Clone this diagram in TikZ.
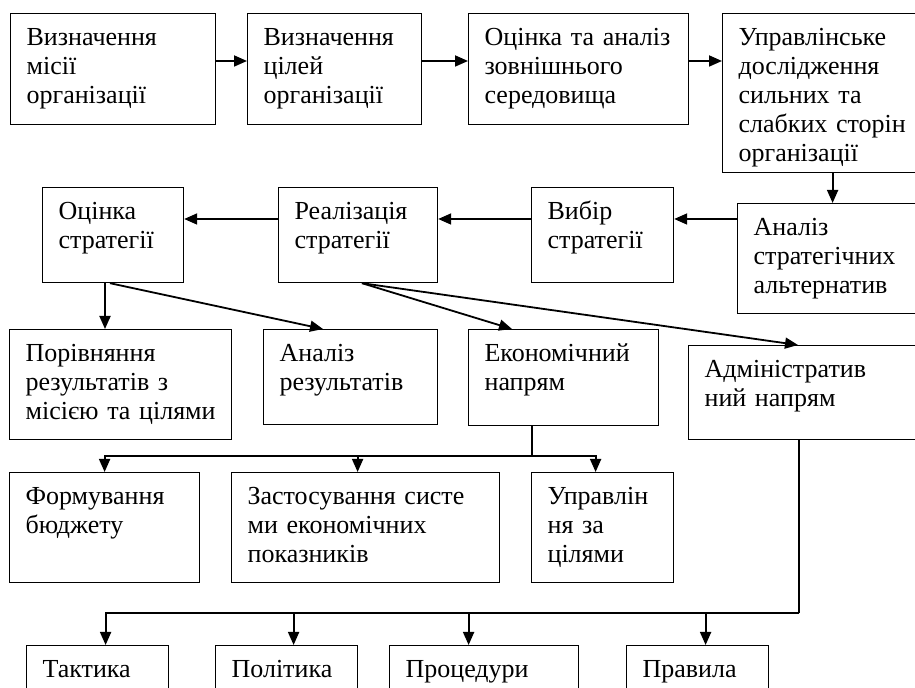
\documentclass[tikz,border=0pt]{standalone}
\usepackage{fontspec}
\setmainfont{Liberation Serif}
\usepackage{tikz}
\usetikzlibrary{arrows.meta}

\begin{document}
\begin{tikzpicture}[
      x=0.5pt, y=-0.5pt,
      font=\fontsize{13}{14.5}\selectfont,
      blk/.style 2 args={draw, line width=0.6pt, anchor=north west, align=left, inner xsep=8pt, inner ysep=6pt, text width=#1, text height=10pt, text depth=#2},
      arrow/.style={-{Triangle[length=6.5pt, width=5.5pt]}, line width=0.9pt},
      bus/.style={line width=0.9pt}
    ]
    \clip (0,0) rectangle (915,688);

    \node (mis) [blk={86.5pt}{33.5pt}] at (10,13) {Визначення\\місії\\організації};
    \node (cil) [blk={71pt}{33.5pt}] at (247,13) {Визначення\\цілей\\організації};
    \node (sered) [blk={94pt}{33.5pt}] at (468,13) {Оцінка~та~аналіз\\зовнішнього\\середовища};
    \node (dosl) [blk={94pt}{57.5pt}] at (722,13) {Управлінське\\дослідження\\сильних~та\\слабких~сторін\\організації};

    \node (ots) [blk={54.5pt}{25.5pt}] at (42,187) {Оцінка\\стратегії};
    \node (real) [blk={63.5pt}{25.5pt}] at (278,187) {Реалізація\\стратегії};
    \node (vyb) [blk={55pt}{25.5pt}] at (531,187) {Вибір\\стратегії};
    \node (alt) [blk={79pt}{33pt}] at (737,203) {Аналіз\\стратегічних\\альтернатив};

    \node (por) [blk={95pt}{33pt}] at (9,329) {Порівняння\\результатів~з\\місією~та~цілями};
    \node (anr) [blk={71pt}{25.5pt}] at (263,329) {Аналіз\\результатів};
    \node (ek) [blk={79pt}{26pt}] at (468,329) {Економічний\\напрям};
    \node (adm) [blk={105pt}{25pt}] at (688,345) {Адміністратив\\ний~напрям};

    \node (bud) [blk={79pt}{33pt}] at (9,472) {Формування\\бюджету};
    \node (zast) [blk={118pt}{33pt}] at (231,472) {Застосування~систе\\ми~економічних\\показників};
    \node (upr) [blk={55pt}{33pt}] at (531,472) {Управлін\\ня~за\\цілями};

    \node (takt) [blk={55pt}{25.5pt}] at (26,645) {Тактика};
    \node (pol) [blk={55pt}{25.5pt}] at (215,645) {Політика};
    \node (proc) [blk={78.5pt}{25.5pt}] at (389,645) {Процедури};
    \node (prav) [blk={55pt}{25.5pt}] at (626,645) {Правила};

    \coordinate (eb) at (532,456);
    \coordinate (ab) at (799,613);

    \draw[arrow] ([yshift=-24pt]mis.north east) -- ([yshift=-24pt]cil.north west);
    \draw[arrow] ([yshift=-24pt]cil.north east) -- ([yshift=-24pt]sered.north west);
    \draw[arrow] ([yshift=-24pt]sered.north east) -- ([yshift=-24pt]dosl.north west);
    \draw[arrow] (dosl.south) -- (alt.north);

    \draw[arrow] ([yshift=-8pt]alt.north west) -- ([yshift=-16pt]vyb.north east);
    \draw[arrow] ([yshift=-16pt]vyb.north west) -- ([yshift=-16pt]real.north east);
    \draw[arrow] ([yshift=-16pt]real.north west) -- ([yshift=-16pt]ots.north east);

    \draw[arrow] ([xshift=31.5pt]ots.south west) -- ([xshift=48pt]por.north west);
    \draw[arrow] ([xshift=34pt]ots.south west) -- ([xshift=30pt]anr.north west);
    \draw[arrow] ([xshift=42pt]real.south west) -- ([xshift=22pt]ek.north west);
    \draw[arrow] ([xshift=42pt]real.south west) -- ([xshift=55pt]adm.north west);

    \draw[bus] ([xshift=32pt]ek.south west) -- (eb);
    \draw[arrow] (eb) -| (bud.north);
    \draw[arrow] (eb) -| ([xshift=-4pt]zast.north);
    \draw[arrow] (eb) -| ([xshift=-3.5pt]upr.north);

    \draw[bus] ([xshift=55.5pt]adm.south west) -- (ab);
    \draw[arrow] (ab) -| ([xshift=4pt]takt.north);
    \draw[arrow] (ab) -| ([xshift=3.5pt]pol.north);
    \draw[arrow] (ab) -| ([xshift=-7.75pt]proc.north);
    \draw[arrow] (ab) -| ([xshift=4pt]prav.north);

    \end{tikzpicture}
\end{document}
